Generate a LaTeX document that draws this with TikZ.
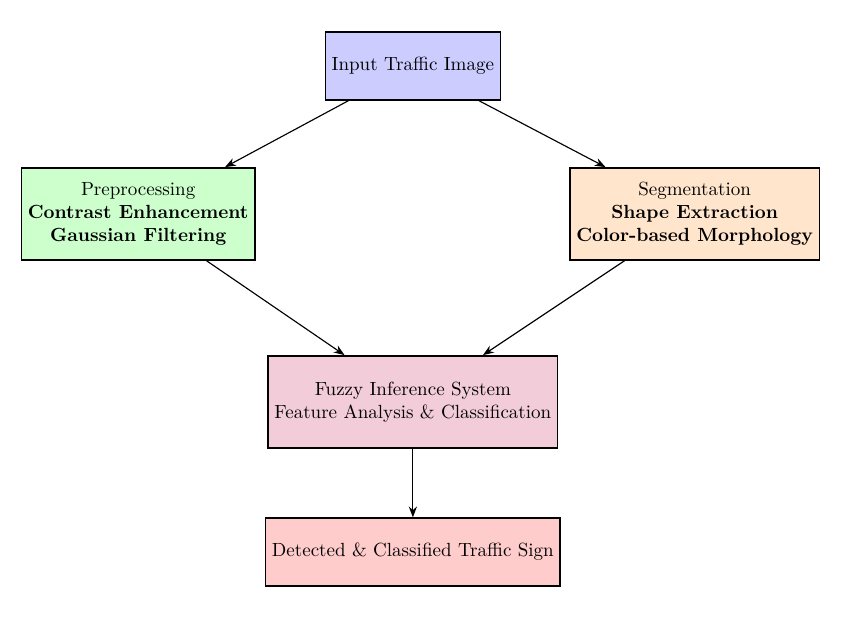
\documentclass[tikz,border=0pt]{standalone}
\usepackage{tikz}
\usetikzlibrary{arrows.meta,positioning}

\tikzset{box/.style={draw, thick, align=center, minimum height=1.25cm}}

\begin{document}
\begin{tikzpicture}[>=Stealth]

\useasboundingbox (-7.62,1.218) rectangle (7.92,-10.46);

\node[box, fill=blue!20] (A) at (0,0) {Input Traffic Image};

\node[box, fill=green!20, minimum height=1.7cm] (B) at (-5.07,-2.73) {Preprocessing\\ \textbf{Contrast Enhancement}\\ \textbf{Gaussian Filtering}};
\node[box, fill=orange!20, minimum height=1.7cm] (C) at (5.2,-2.73) {Segmentation\\ \textbf{Shape Extraction}\\ \textbf{Color-based Morphology}};

\node[box, fill=purple!20, minimum height=1.7cm] (D) at (0,-6.2) {Fuzzy Inference System\\ Feature Analysis \& Classification};

\node[box, fill=red!20] (E) at (0,-8.97) {Detected \& Classified Traffic Sign};

\draw[->, semithick] (A) -- (B);
\draw[->, semithick] (A) -- (C);

\draw[->, semithick] (B) -- (D);
\draw[->, semithick] (C) -- (D);

\draw[->, semithick] (D) -- (E);

\end{tikzpicture}
\end{document}
